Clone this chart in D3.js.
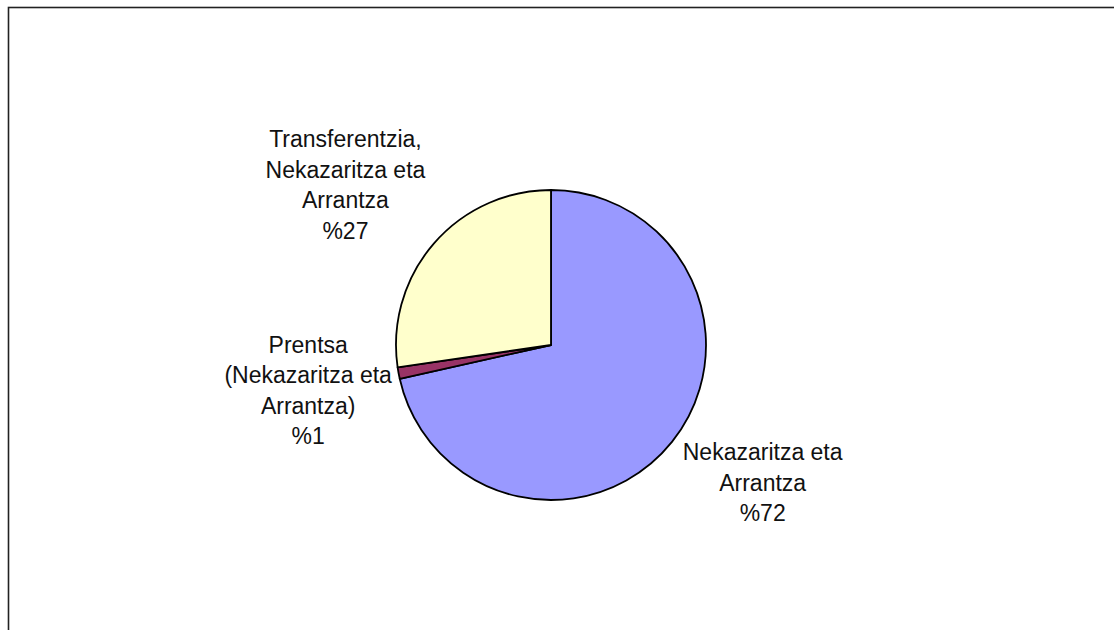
<!DOCTYPE html>
<html>
<head>
<meta charset="utf-8">
<script src="https://cdn.jsdelivr.net/npm/d3@7"></script>
<style>
  body { margin: 0; background: #fff; }
  text { font-family: "Liberation Sans", Arial, sans-serif; }
</style>
</head>
<body>
<div id="chart"></div>
<script>
// Data
const labels = [
  ["Nekazaritza eta", "Arrantza"],
  ["Prentsa", "(Nekazaritza eta", "Arrantza)"],
  ["Transferentzia,", "Nekazaritza eta", "Arrantza"]
];
const values = [71.5, 1.2, 27.3];
const pctLabels = ["%72", "%1", "%27"];
const colors = ["#9999FF", "#993366", "#FFFFCC"];

const W = 1114, H = 630;
const cx = 551, cy = 345;
const radius = 155;
const labelRadius = 252;
const lineH = 30.5;
// small hand nudges so the label blocks sit where the original put them
const labelNudge = [[15, -20], [5, 0], [-15, 5]];

const svg = d3.select("#chart")
  .append("svg")
  .attr("width", W)
  .attr("height", H);

// outer frame (runs off the right and bottom edges)
svg.append("rect")
  .attr("x", 8.5)
  .attr("y", 7.5)
  .attr("width", 1200)
  .attr("height", 700)
  .attr("fill", "none")
  .attr("stroke", "#222")
  .attr("stroke-width", 1.6);

const pie = d3.pie().sort(null).value(d => d);
const arcs = pie(values);

const arc = d3.arc().innerRadius(0).outerRadius(radius);
const labelArc = d3.arc().innerRadius(labelRadius).outerRadius(labelRadius);

const g = svg.append("g")
  .attr("transform", `translate(${cx},${cy})`);

g.selectAll("path")
  .data(arcs)
  .enter()
  .append("path")
  .attr("d", arc)
  .attr("fill", (d, i) => colors[i])
  .attr("stroke", "#000")
  .attr("stroke-width", 1.8)
  .attr("stroke-linejoin", "round");

// labels
arcs.forEach((d, i) => {
  const lines = labels[i].concat([pctLabels[i]]);
  const [lx0, ly0] = labelArc.centroid(d);
  const lx = lx0 + labelNudge[i][0];
  const ly = ly0 + labelNudge[i][1];
  const top = ly - (lines.length - 1) * lineH / 2;
  const t = g.append("text")
    .attr("text-anchor", "middle")
    .attr("font-size", 23)
    .attr("fill", "#111");
  lines.forEach((s, j) => {
    t.append("tspan")
      .attr("x", lx)
      .attr("y", top + j * lineH)
      .attr("dy", "0.35em")
      .text(s);
  });
});
</script>
</body>
</html>
